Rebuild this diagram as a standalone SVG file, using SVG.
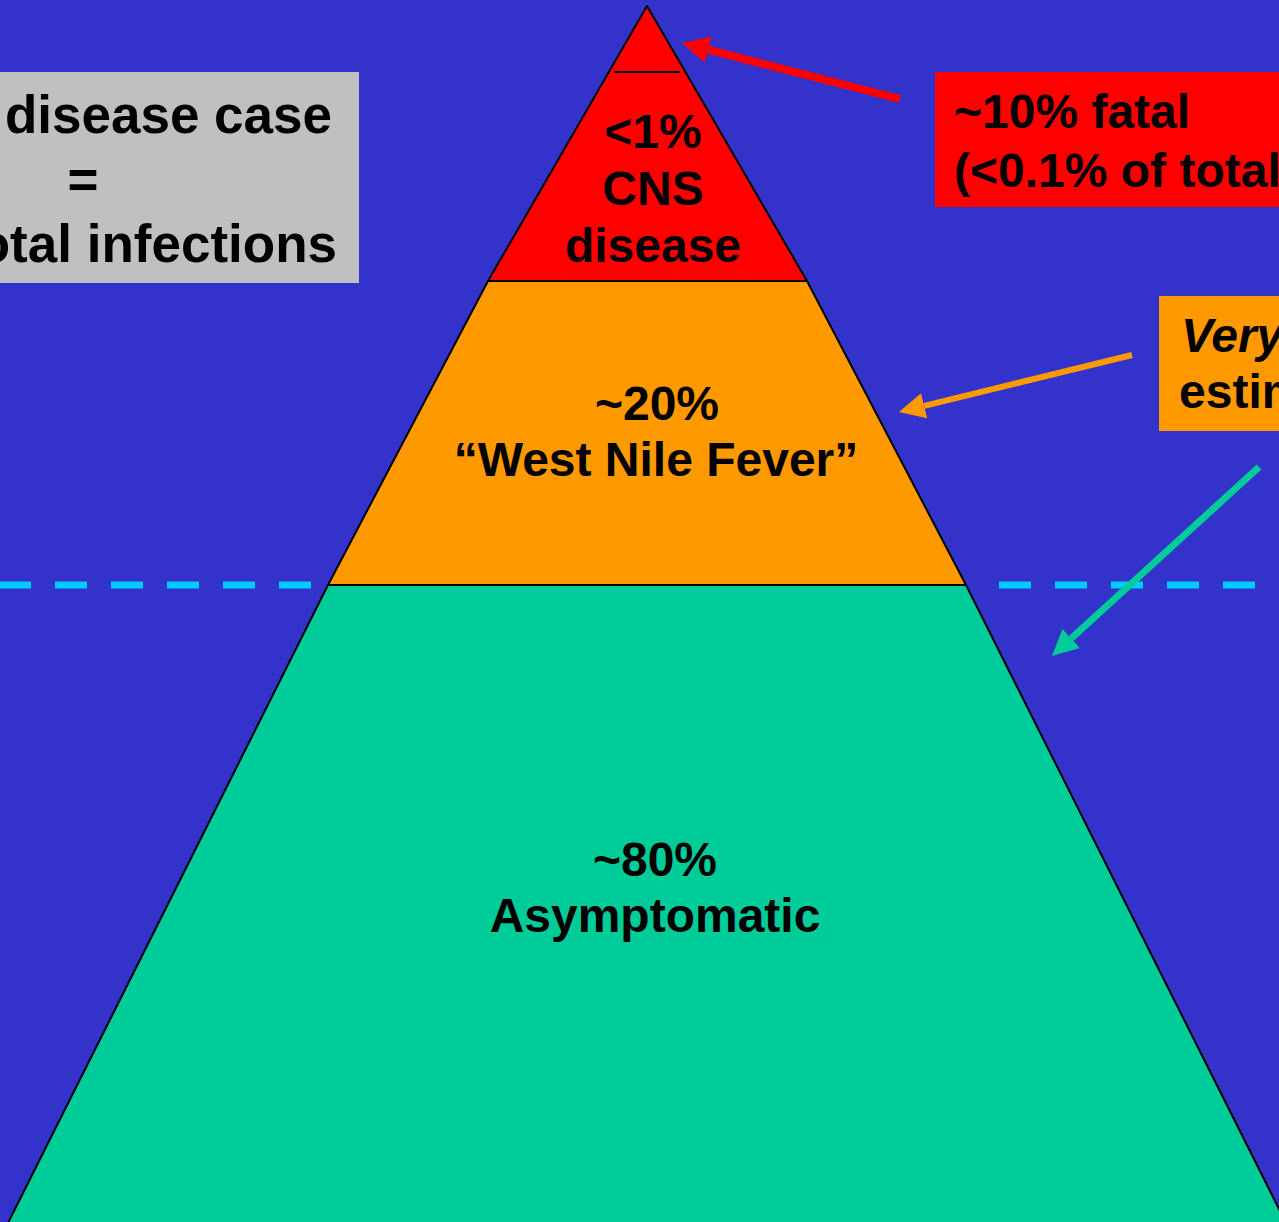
<svg xmlns="http://www.w3.org/2000/svg" width="1279" height="1222" viewBox="0 0 1279 1222">
  <style>
    .t { font-family: "Liberation Sans", Arial, sans-serif; font-weight: bold; font-size: 48px; fill: #000; }
    .c { text-anchor: middle; }
    .layer { stroke: #000; stroke-width: 2; stroke-linejoin: round; }
    .dash { stroke: #00CCFF; stroke-width: 7; stroke-dasharray: 32 24; fill: none; }
  </style>
  <defs>
    <marker id="headRed" markerUnits="userSpaceOnUse" markerWidth="27" markerHeight="27" refX="0" refY="13.5" orient="auto" viewBox="0 0 27 27">
      <path d="M0,0 L27,13.5 L0,27 z" fill="#FF0000"/>
    </marker>
    <marker id="headOrange" markerUnits="userSpaceOnUse" markerWidth="26" markerHeight="26" refX="0" refY="13" orient="auto" viewBox="0 0 26 26">
      <path d="M0,0 L26,13 L0,26 z" fill="#FF9900"/>
    </marker>
    <marker id="headGreen" markerUnits="userSpaceOnUse" markerWidth="26" markerHeight="26" refX="0" refY="13" orient="auto" viewBox="0 0 26 26">
      <path d="M0,0 L26,13 L0,26 z" fill="#00CC99"/>
    </marker>
  </defs>

  <rect x="0" y="0" width="1279" height="1222" fill="#3333CC"/>

  <g id="waterline">
    <line class="dash" x1="-1" y1="585" x2="330" y2="585"/>
    <line class="dash" x1="999" y1="585" x2="1279" y2="585"/>
  </g>

  <g id="layer-asymptomatic">
    <polygon class="layer" points="328,585 966,585 1287,1225 7,1225" fill="#00CC99"/>
    <text class="t c" x="655" y="876">~80%</text>
    <text class="t c" x="655" y="932">Asymptomatic</text>
  </g>

  <g id="layer-fever">
    <polygon class="layer" points="488,281 807,281 966,585 328,585" fill="#FF9900"/>
    <text class="t c" x="657" y="420">~20%</text>
    <text class="t c" x="656" y="476">“West Nile Fever”</text>
  </g>

  <g id="layer-cns">
    <polygon class="layer" points="647,6 807,281 488,281" fill="#FF0000"/>
    <line x1="614" y1="72" x2="680" y2="72" stroke="#000" stroke-width="2"/>
    <text class="t c" x="653" y="148">&lt;1%</text>
    <text class="t c" x="653" y="205">CNS</text>
    <text class="t c" x="653" y="262">disease</text>
  </g>

  <g id="box-ratio">
    <rect x="-2" y="72" width="361" height="211" fill="#C0C0C0"/>
    <text class="t" x="332" y="133" style="font-size:53px;text-anchor:end">disease case</text>
    <text class="t c" x="83" y="198" style="font-size:53px">=</text>
    <text class="t" x="337" y="262" style="font-size:53px;text-anchor:end">total infections</text>
  </g>

  <g id="box-fatal">
    <rect x="935" y="72" width="350" height="135" fill="#FF0000"/>
    <text class="t" x="954" y="128">~10% fatal</text>
    <text class="t" x="954" y="187">(&lt;0.1% of total)</text>
  </g>

  <g id="box-estimates">
    <rect x="1159" y="296" width="130" height="135" fill="#FF9900"/>
    <text class="t" x="1181" y="352" style="font-style:italic">Very</text>
    <text class="t" x="1179" y="408">estimates</text>
  </g>

  <g id="connectors">
    <line x1="900" y1="99" x2="708.2" y2="49.7" stroke="#FF0000" stroke-width="8" marker-end="url(#headRed)"/>
    <line x1="1132" y1="355" x2="924.2" y2="405.8" stroke="#FF9900" stroke-width="6" marker-end="url(#headOrange)"/>
    <line x1="1259" y1="467" x2="1071.2" y2="638.5" stroke="#00CC99" stroke-width="7" marker-end="url(#headGreen)"/>
  </g>
</svg>
